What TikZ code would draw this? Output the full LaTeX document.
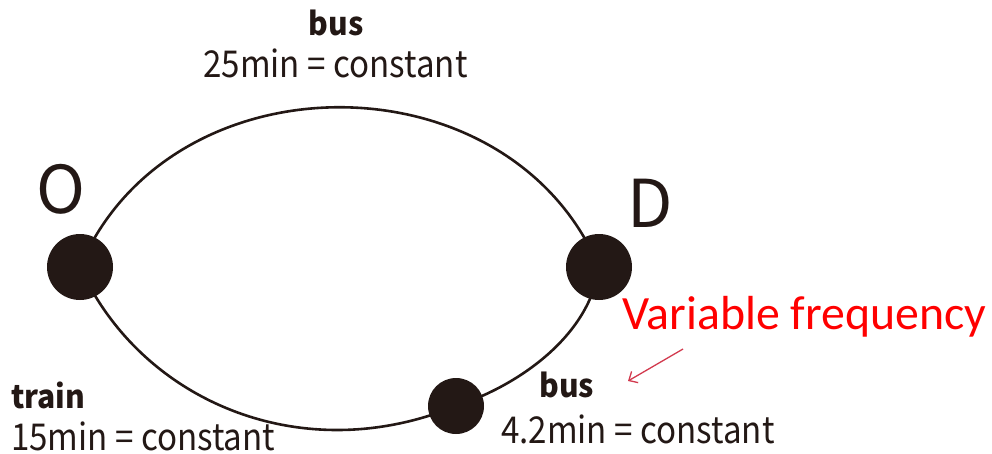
\documentclass[tikz,border=0pt]{standalone}
\usepackage{graphicx}
\usepackage{fontspec}
\setmainfont{Noto Sans CJK JP}
\newfontfamily\calfont{Carlito}
\usetikzlibrary{arrows.meta,backgrounds}
\definecolor{ink}{HTML}{231815}
\definecolor{arrowred}{HTML}{D23A4E}
\newcommand{\reglbl}[1]{\scalebox{0.895}[1]{#1}}
\newcommand{\boldlbl}[1]{\scalebox{0.94}[1]{#1}}
\tikzset{
  stop/.style={circle,fill=ink,inner sep=0pt},
  route/.style={draw=ink,line width=2.6pt},
  lbl/.style={text=ink,inner sep=0pt,font=\fontsize{37}{44}\selectfont},
  blbl/.style={text=ink,inner sep=0pt,font=\fontsize{32}{40}\selectfont\bfseries},
  letter/.style={text=ink,inner sep=0pt,font=\fontsize{66}{70}\selectfont},
  note/.style={text=red,inner sep=0pt,font=\calfont\fontsize{47.8}{52}\selectfont},
  pointer/.style={draw=arrowred,line width=1.3pt,-{Straight Barb[length=7pt,width=13pt]}}
}
\begin{document}
\begin{tikzpicture}[x=1pt,y=-1pt]
\useasboundingbox (0,0) rectangle (992,453);
\node[stop,minimum size=66pt] (O) at (80,267) {};
\node[stop,minimum size=66pt] (D) at (599,267) {};
\node[stop,minimum size=56pt] (B) at (456,406) {};
\begin{scope}[on background layer]
\draw[route] (O.center) .. controls (170,54) and (509,54) .. (D.center);
\draw[route] (O.center) .. controls (140,400) and (300,470) .. (B.center);
\draw[route] (B.center) .. controls (520,385) and (590,335) .. (D.center);
\end{scope}
\node[letter,anchor=base] (Ol) at (61,213) {O};
\node[letter,anchor=base] (Dl) at (650,227) {D};
\node[blbl,anchor=base] (bus1) at (336,35) {\boldlbl{bus}};
\node[lbl,anchor=base] (t1) at (335.5,77) {\reglbl{25min = constant}};
\node[blbl,anchor=base west] (train) at (11,408) {\boldlbl{train}};
\node[lbl,anchor=base west] (t2) at (11,450) {\reglbl{15min = constant}};
\node[blbl,anchor=base west] (bus2) at (539,397) {\boldlbl{bus}};
\node[lbl,anchor=base west] (t3) at (501,443) {\reglbl{4.2min = constant}};
\node[note,anchor=base west] (vf) at (622,329) {Variable frequency};
\coordinate (a1) at (683,349);
\coordinate (a2) at (628,381);
\draw[pointer] (a1) -- (a2);
\end{tikzpicture}
\end{document}
